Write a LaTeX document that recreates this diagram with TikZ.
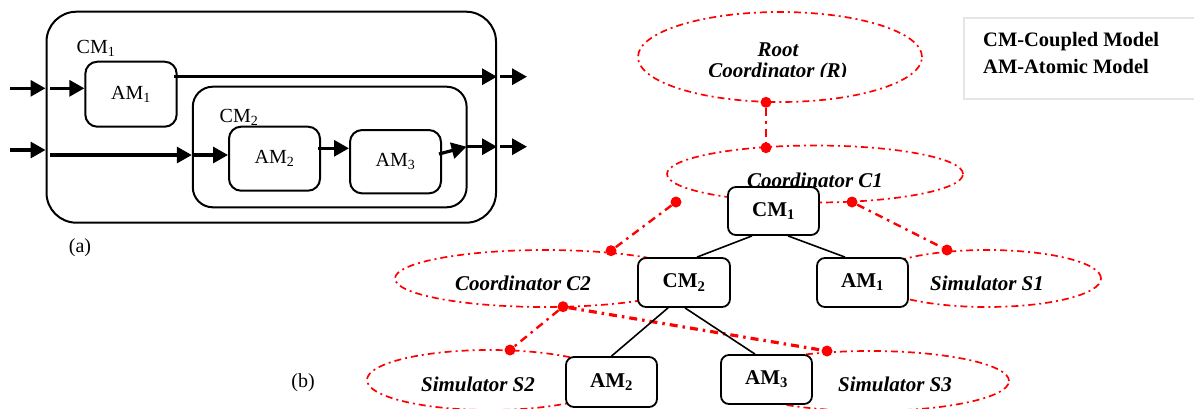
\documentclass[tikz,border=0pt]{standalone}
\usepackage{fontspec}
\setmainfont{Liberation Serif}
\usetikzlibrary{arrows.meta,shapes.geometric}
\begin{document}
\begin{tikzpicture}[x=1pt,y=-1pt,
  frame/.style={draw, line width=2pt, inner sep=0pt},
  abox/.style={draw, line width=2pt, rounded corners=12pt, inner sep=0pt, font=\fontsize{20}{24}\selectfont},
  alabel/.style={inner sep=0pt, font=\fontsize{20}{24}\selectfont},
  arr/.style={line width=3.2pt, -{Triangle[length=15pt,width=16pt]}},
  bbox/.style={draw, fill=white, line width=1.8pt, rounded corners=8pt, minimum width=91pt, minimum height=49pt, inner sep=0pt, font=\fontsize{21}{25}\selectfont\bfseries},
  ell/.style={ellipse, draw=red, line width=1.7pt, dash pattern=on 7pt off 4pt on 2pt off 4pt, inner sep=0pt},
  link/.style={draw=red, line width=2.4pt, dash pattern=on 8pt off 5pt on 2.5pt off 5pt},
  rdot/.style={circle, fill=red, inner sep=0pt, minimum size=11pt},
  tree/.style={line width=1.6pt},
  ital/.style={inner sep=0pt, font=\fontsize{21}{25}\selectfont\bfseries\itshape},
  legtext/.style={inner sep=0pt, anchor=west, font=\fontsize{20.5}{24}\selectfont\bfseries}
]
\useasboundingbox (0,0) rectangle (1194,408);

% ---------------- (a) ----------------
\node[frame, rounded corners=30pt, minimum width=449.5pt, minimum height=211pt] (cmA) at (271.25,117.2) {};
\node[frame, rounded corners=20pt, minimum width=273.8pt, minimum height=120.6pt] (cmB) at (329.7,147) {};
\node[abox, minimum width=91.3pt, minimum height=65pt] (am1a) at (131,94.2) {AM\textsubscript{1}};
\node[abox, minimum width=91pt, minimum height=64pt] (am2a) at (274.5,158.7) {AM\textsubscript{2}};
\node[abox, minimum width=91pt, minimum height=63.3pt] (am3a) at (395.5,161.7) {AM\textsubscript{3}};
\node[alabel] (cmAl) at (96,48) {CM\textsubscript{1}};
\node[alabel] (cmBl) at (239,117) {CM\textsubscript{2}};
\node[alabel] (la) at (80,248) {(a)};

\coordinate (in1) at (10,88.3);
\coordinate (in1b) at (50,88.3);
\coordinate (in2) at (10,150);
\coordinate (p2) at (50,155);
\coordinate (o1) at (174,76.7);
\coordinate (o1b) at (500,76.7);
\coordinate (o1e) at (527,76.7);
\coordinate (a23) at (318,148.3);
\coordinate (o2s) at (439,154);
\coordinate (o2) at (466.6,146.7);
\coordinate (o2b) at (500,146.7);
\coordinate (o2e) at (527,146.7);

\draw[arr] (in1) -- (in1 -| cmA.west);
\draw[arr] (in1b) -- (in1b -| am1a.west);
\draw[arr] (o1) -- (o1 -| cmA.east);
\draw[arr] (o1b) -- (o1e);
\draw[arr] (in2) -- (in2 -| cmA.west);
\draw[arr] (p2) -- (p2 -| cmB.west);
\draw[arr] (p2 -| cmB.west) -- (p2 -| am2a.west);
\draw[arr] (a23) -- (a23 -| am3a.west);
\draw[arr] (o2s) -- (o2);
\draw[arr] (o2) -- (o2 -| cmA.east);
\draw[arr] (o2b) -- (o2e);

% ---------------- (b) ----------------
\node[ell, minimum width=284pt, minimum height=90pt] (root) at (780,57) {};
\node[ell, minimum width=296pt, minimum height=57pt] (c1) at (815,174) {};
\node[ell, minimum width=300pt, minimum height=57pt] (c2) at (545,278.5) {};
\node[ell, minimum width=228pt, minimum height=57pt] (s1) at (987,278.5) {};
\node[ell, minimum width=246pt, minimum height=60pt] (s2) at (490,380) {};
\node[ell, minimum width=278pt, minimum height=60pt] (s3) at (870,381) {};

\begin{scope}
  \clip (640,20) rectangle (920,76.5);
  \node[ital] (rootT1) at (778,50) {Root};
  \node[ital] (rootT2) at (778,72) {Coordinator (R)};
\end{scope}
\node[ital] (c1T) at (815,180) {Coordinator C1};
\node[ital] (c2T) at (523,283) {Coordinator C2};
\node[ital] (s1T) at (987,283) {Simulator S1};
\node[ital] (s2T) at (478,384) {Simulator S2};
\node[ital] (s3T) at (895,384) {Simulator S3};

\node[rdot] (dR) at (766,102.3) {};
\node[rdot] (dC1t) at (766,147.7) {};
\node[rdot] (dC1a) at (676,202) {};
\node[rdot] (dC2t) at (611,250.7) {};
\node[rdot] (dC1b) at (852,202) {};
\node[rdot] (dS1t) at (947,250) {};
\node[rdot] (dC2b) at (563,306.7) {};
\node[rdot] (dS2t) at (510,350) {};
\node[rdot] (dS3t) at (827,351) {};

\draw[link] (dR) -- (dC1t);
\draw[link] (dC1a) -- (dC2t);
\draw[link] (dC1b) -- (dS1t);
\draw[link] (dC2b) -- (dS2t);
\draw[link, line width=3.2pt] (dC2b) -- (dS3t);

\node[bbox, minimum height=48pt] (cm1) at (773.5,211) {CM\textsubscript{1}};
\node[bbox, minimum width=92pt] (cm2) at (684,282.5) {CM\textsubscript{2}};
\node[bbox] (am1) at (862.5,282.5) {AM\textsubscript{1}};
\node[bbox, minimum height=50pt] (am2) at (611.5,382) {AM\textsubscript{2}};
\node[bbox] (am3) at (766.5,379.5) {AM\textsubscript{3}};

\draw[tree] ([xshift=-21.5pt]cm1.south) -- ([xshift=13pt]cm2.north);
\draw[tree] ([xshift=14.5pt]cm1.south) -- ([xshift=-17.5pt]am1.north);
\draw[tree] ([xshift=-16pt]cm2.south) -- (am2.north);
\draw[tree] ([xshift=1pt]cm2.south) -- ([xshift=-11.5pt]am3.north);

\node[alabel] (lb) at (303,383) {(b)};

% legend
\node[draw=black!10, line width=1.5pt, minimum width=245pt, minimum height=81pt, anchor=north west] (leg) at (963,17) {};
\node[legtext] (leg1) at (983,41.7) {CM-Coupled Model};
\node[legtext] (leg2) at (983,66) {AM-Atomic Model};
\end{tikzpicture}
\end{document}
